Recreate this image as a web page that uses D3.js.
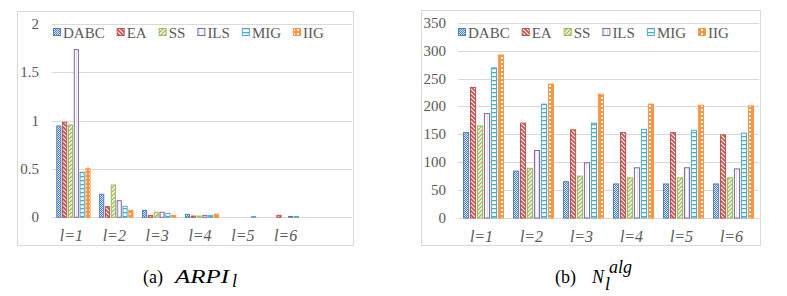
<!DOCTYPE html>
<html>
<head>
    <script src="https://cdnjs.cloudflare.com/ajax/libs/d3/7.8.5/d3.min.js"></script>
    <style>
        body { margin: 0; background: #fff; }
        svg text { font-family: "Times New Roman", "Liberation Serif", "DejaVu Serif", serif; }
        .tick-label { font-size: 15px; fill: #595959; }
        .cat-label { font-size: 16px; font-style: italic; fill: #595959; }
        .legend text { font-size: 15px; fill: #595959; }
        .grid { stroke: #d9d9d9; stroke-width: 1px; }
        .frame { fill: none; stroke: #d9d9d9; stroke-width: 1px; }
        .caption { font-size: 18px; fill: #000; }
    </style>
</head>
<body>
    <div id="chart"></div>
    <script>
        const width = 787, height = 296;

        // data
        const categories = ["l=1", "l=2", "l=3", "l=4", "l=5", "l=6"];
        const algorithms = ["DABC", "EA", "SS", "ILS", "MIG", "IIG"];
        const colors = ["#4f81bd", "#c0504d", "#9bbb59", "#8064a2", "#4bacc6", "#f79646"];

        // (a) ARPI_l, one row per algorithm
        const arpiDABC = [0.945, 0.238, 0.072, 0.031, 0, 0];
        const arpiEA   = [0.983, 0.110, 0.020, 0.013, 0, 0.020];
        const arpiSS   = [0.955, 0.334, 0.052, 0.013, 0, 0];
        const arpiILS  = [1.735, 0.172, 0.052, 0.020, 0, 0.008];
        const arpiMIG  = [0.466, 0.114, 0.041, 0.020, 0.008, 0.008];
        const arpiIIG  = [0.507, 0.072, 0.020, 0.033, 0, 0];
        const arpiTicks = [0, 0.5, 1, 1.5, 2];

        // (b) N_l^alg
        const nDABC = [153, 84, 65, 61, 61, 61];
        const nEA   = [234, 170, 158, 153, 153, 149];
        const nSS   = [165, 89, 75, 72, 72, 72];
        const nILS  = [187, 121, 99, 90, 90, 88];
        const nMIG  = [269, 204, 170, 159, 157, 152];
        const nIIG  = [292, 240, 222, 204, 202, 201];
        const nTicks = [0, 50, 100, 150, 200, 250, 300, 350];

        const svg = d3.select("#chart").append("svg")
            .attr("width", width).attr("height", height);

        // bar patterns
        const defs = svg.append("defs");
        function pat(id, w, h) {
            return defs.append("pattern").attr("id", id)
                .attr("patternUnits", "userSpaceOnUse")
                .attr("width", w).attr("height", h);
        }
        // DABC: small checker
        let p = pat("p0", 2, 2);
        p.append("rect").attr("width", 2).attr("height", 2).attr("fill", "#dbe5f1");
        p.append("rect").attr("width", 1).attr("height", 1).attr("fill", colors[0]);
        p.append("rect").attr("x", 1).attr("y", 1).attr("width", 1).attr("height", 1).attr("fill", colors[0]);
        // EA: wide downward diagonal
        p = pat("p1", 4, 4);
        p.append("rect").attr("width", 4).attr("height", 4).attr("fill", "#fff");
        p.append("path").attr("d", "M-1,-1 L5,5 M-1,3 L1,5 M3,-1 L5,1")
            .attr("stroke", colors[1]).attr("stroke-width", 1.6);
        // SS: upward diagonal
        p = pat("p2", 4, 4);
        p.append("rect").attr("width", 4).attr("height", 4).attr("fill", "#fff");
        p.append("path").attr("d", "M-1,5 L5,-1 M-1,1 L1,-1 M3,5 L5,3")
            .attr("stroke", colors[2]).attr("stroke-width", 1.3);
        // ILS: mostly white with faint vertical line
        p = pat("p3", 3, 3);
        p.append("rect").attr("width", 3).attr("height", 3).attr("fill", "#fff");
        p.append("rect").attr("x", 1).attr("width", 1).attr("height", 3).attr("fill", "#e4dfec");
        // MIG: horizontal ladder
        p = pat("p4", 4, 4);
        p.append("rect").attr("width", 4).attr("height", 4).attr("fill", "#fff");
        p.append("rect").attr("width", 4).attr("height", 1.3).attr("fill", colors[4]);
        // IIG: large checker
        p = pat("p5", 4, 4);
        p.append("rect").attr("width", 4).attr("height", 4).attr("fill", colors[5]);
        p.append("rect").attr("x", 1).attr("y", 1).attr("width", 2).attr("height", 2).attr("fill", "#fff");

        function drawPanel(cfg) {
            const g = svg.append("g");
            g.append("rect").attr("class", "frame")
                .attr("x", cfg.frame[0] + 0.5).attr("y", cfg.frame[1] + 0.5)
                .attr("width", cfg.frame[2]).attr("height", cfg.frame[3]);

            const x0 = d3.scaleBand().domain(categories)
                .range(cfg.xRange).paddingInner(cfg.pad).paddingOuter(cfg.pad / 2);
            const x1 = d3.scaleBand().domain(algorithms)
                .range([0, x0.bandwidth()]).paddingInner(0.12);
            const y = d3.scaleLinear().domain([0, cfg.ticks[cfg.ticks.length - 1]]).range(cfg.yRange);

            // gridlines
            g.selectAll(".grid").data(cfg.ticks).enter().append("line")
                .attr("class", "grid")
                .attr("x1", cfg.gridX[0]).attr("x2", cfg.gridX[1])
                .attr("y1", d => Math.round(y(d)) + 0.5).attr("y2", d => Math.round(y(d)) + 0.5);

            g.selectAll(".tick-label").data(cfg.ticks).enter().append("text")
                .attr("class", "tick-label")
                .attr("x", cfg.labelX).attr("y", d => y(d) + 5)
                .attr("text-anchor", "end")
                .text(cfg.fmt);

            // bars
            const rows = cfg.series.map((vals, i) => vals.map((v, j) => ({ alg: algorithms[i], i: i, cat: categories[j], v: v })));
            const series = g.selectAll(".series").data(rows).enter().append("g");
            series.selectAll("rect").data(d => d.filter(e => e.v > 0)).enter().append("rect")
                .attr("x", d => x0(d.cat) + x1(d.alg) + 0.5)
                .attr("y", d => y(d.v))
                .attr("width", x1.bandwidth() - 1)
                .attr("height", d => Math.max(0.5, y(0) - y(d.v)))
                .attr("fill", d => "url(#p" + d.i + ")")
                .attr("stroke", d => colors[d.i])
                .attr("stroke-width", 1);

            // category labels
            g.selectAll(".cat-label").data(categories).enter().append("text")
                .attr("class", "cat-label")
                .attr("x", d => x0(d) + x0.bandwidth() / 2 - 2)
                .attr("y", cfg.catY)
                .attr("text-anchor", "middle")
                .text(d => d);

            // legend
            const leg = g.append("g").attr("class", "legend");
            let lx = cfg.legX;
            algorithms.forEach((a, i) => {
                leg.append("rect")
                    .attr("x", lx + 0.5).attr("y", cfg.legY - 9.5)
                    .attr("width", 7).attr("height", 7)
                    .attr("fill", "url(#p" + i + ")")
                    .attr("stroke", colors[i]);
                const t = leg.append("text").attr("x", lx + 10).attr("y", cfg.legY).text(a);
                lx += 10 + t.node().getComputedTextLength() + 12;
            });
        }

        drawPanel({
            frame: [17, 11, 336, 234],
            xRange: [52, 52 + 300 * 6 / 7],
            pad: 0.2,
            gridX: [52, 352],
            yRange: [217.3, 24],
            ticks: arpiTicks,
            fmt: d => d,
            labelX: 39,
            catY: 241,
            legX: 53,
            legY: 38,
            series: [arpiDABC, arpiEA, arpiSS, arpiILS, arpiMIG, arpiIIG]
        });

        drawPanel({
            frame: [421, 10, 339, 235],
            xRange: [458.5, 758.5],
            pad: 0.18,
            gridX: [458, 759],
            yRange: [218, 22.7],
            ticks: nTicks,
            fmt: d => d,
            labelX: 446,
            catY: 242,
            legX: 458,
            legY: 38,
            series: [nDABC, nEA, nSS, nILS, nMIG, nIIG]
        });

        // captions
        svg.append("text").attr("class", "caption").attr("x", 143).attr("y", 283).text("(a)");
        svg.append("text").attr("class", "caption")
            .attr("x", 175).attr("y", 283).attr("font-size", "19px")
            .attr("font-style", "italic").attr("textLength", 54).attr("lengthAdjust", "spacingAndGlyphs")
            .text("ARPI");
        svg.append("text").attr("class", "caption")
            .attr("x", 232).attr("y", 287).attr("font-size", "13px").attr("font-style", "italic")
            .text("l");

        svg.append("text").attr("class", "caption").attr("x", 555).attr("y", 283).text("(b)");
        svg.append("text").attr("class", "caption")
            .attr("x", 592).attr("y", 283).attr("font-size", "19px").attr("font-style", "italic")
            .text("N");
        svg.append("text").attr("class", "caption")
            .attr("x", 609).attr("y", 273).attr("font-size", "13px").attr("font-style", "italic")
            .text("alg");
        svg.append("text").attr("class", "caption")
            .attr("x", 605).attr("y", 290).attr("font-size", "13px").attr("font-style", "italic")
            .text("l");
    </script>
</body>
</html>
